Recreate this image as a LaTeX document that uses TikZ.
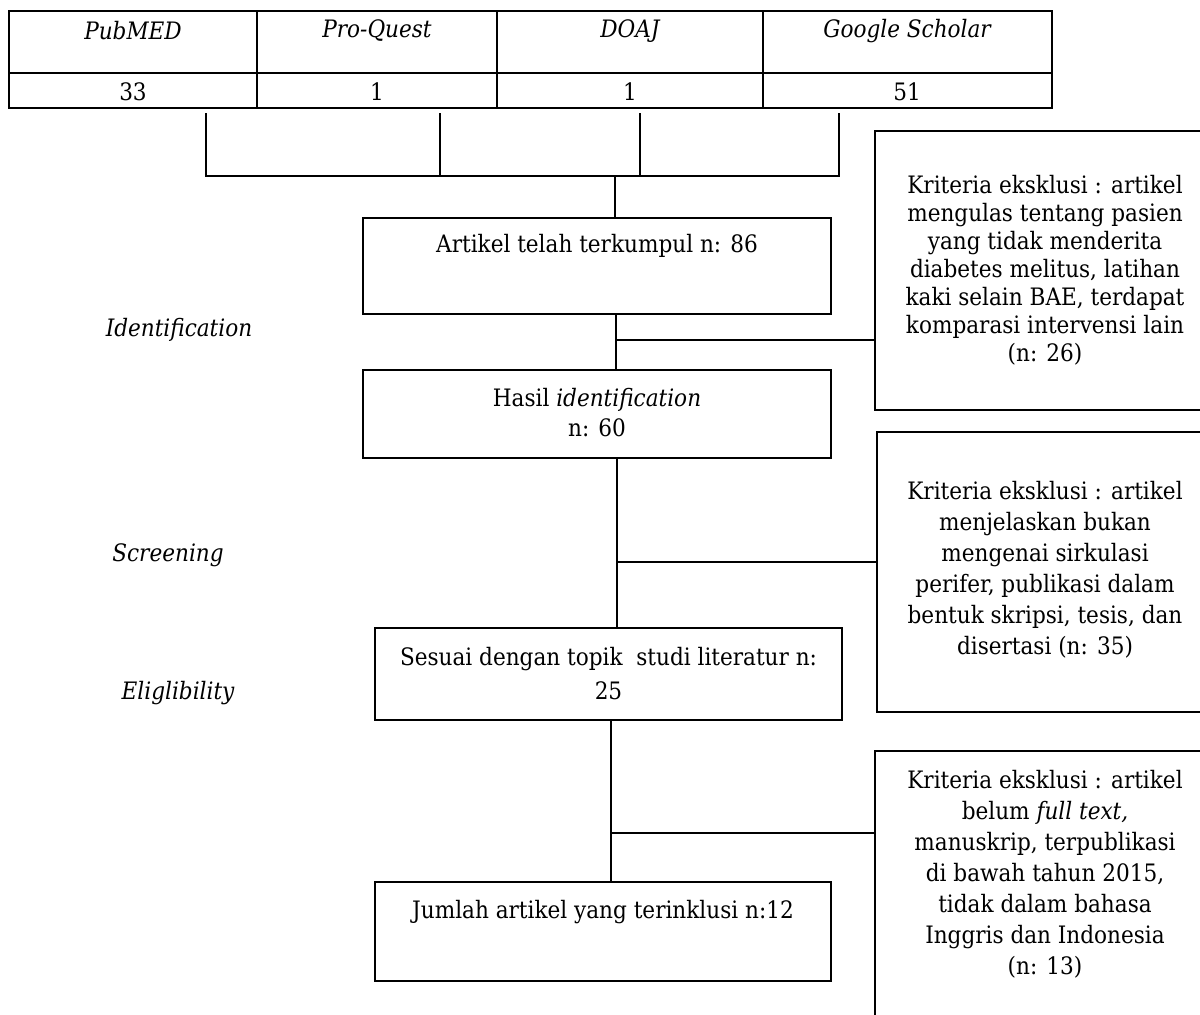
\documentclass[tikz,border=0pt]{standalone}
\usepackage{fontspec}
\setmainfont{DejaVu Serif Condensed}
\begin{document}
\begin{tikzpicture}[x=0.5pt,y=-0.5pt,
  box/.style={draw, line width=1.2pt, inner sep=0pt},
  con/.style={line width=0.9pt},
  txt/.style={inner sep=0pt, align=center, font=\fontsize{12}{15}\selectfont},
  itx/.style={inner sep=0pt, align=center, font=\fontsize{12}{15}\selectfont\itshape}]
\useasboundingbox (0,0) rectangle (1200,1014);
\clip (0,0) rectangle (1200,1014);
% table
\draw[line width=1.2pt] (9,11) rectangle (1052,108);
\draw[line width=1.2pt] (9,73) -- (1052,73);
\draw[line width=1.2pt] (257,11) -- (257,108) (497,11) -- (497,108) (763,11) -- (763,108);
\node[itx] (h1) at (133,31) {PubMED};
\node[itx] (h2) at (377,31) {Pro-Quest};
\node[itx] (h3) at (630,31) {DOAJ};
\node[itx] (h4) at (907,31) {Google Scholar};
\node[txt] (v1) at (133,92) {33};
\node[txt] (v2) at (377,92) {1};
\node[txt] (v3) at (630,92) {1};
\node[txt] (v4) at (907,92) {51};
% collector
\coordinate (c1) at (206,113);
\coordinate (c2) at (440,113);
\coordinate (c3) at (640,113);
\coordinate (c4) at (839,113);
\coordinate (cy) at (615,176);
\draw[con] (c1) |- (cy -| c4) -- (c4);
\draw[con] (c2) -- (c2 |- cy);
\draw[con] (c3) -- (c3 |- cy);
% main boxes
\node[box, minimum width=234pt, minimum height=48pt] (b1) at (597,266) {};
\node[txt] (t1) at (597,246) {Artikel telah terkumpul n: 86};
\node[box, minimum width=234pt, minimum height=44pt] (b2) at (597,414) {};
\node[txt] (t2) at (597,413) {Hasil \textit{identification}\\n: 60};
\node[box, minimum width=233.5pt, minimum height=46pt] (b3) at (608.5,674) {};
\node[txt, font=\fontsize{12}{17}\selectfont] (t3) at (608.5,674) {Sesuai dengan topik\ \ studi literatur n:\\25};
\node[box, minimum width=228pt, minimum height=49.5pt] (b4) at (603,931.5) {};
\node[txt] (t4) at (603,912) {Jumlah artikel yang terinklusi n:12};
\draw[con] (cy) -- (cy |- b1.north);
% exclusion boxes
\node[box, minimum width=170pt, minimum height=139.5pt] (ra) at (1045,270.5) {};
\node[txt, font=\fontsize{12}{14}\selectfont] (ta) at (1045,270) {Kriteria eksklusi : artikel\\mengulas tentang pasien\\yang tidak menderita\\diabetes melitus, latihan\\kaki selain BAE, terdapat\\komparasi intervensi lain\\(n: 26)};
\node[box, minimum width=169pt, minimum height=140pt] (rb) at (1046,572) {};
\node[txt, font=\fontsize{12}{15.5}\selectfont] (tb) at (1045,570) {Kriteria eksklusi : artikel\\menjelaskan bukan\\mengenai sirkulasi\\perifer, publikasi dalam\\bentuk skripsi, tesis, dan\\disertasi (n: 35)};
\node[box, minimum width=170pt, minimum height=150pt] (rc) at (1045,901) {};
\node[txt, font=\fontsize{12}{15.5}\selectfont] (tc) at (1045,874) {Kriteria eksklusi : artikel\\belum \textit{full text,}\\manuskrip, terpublikasi\\di bawah tahun 2015,\\tidak dalam bahasa\\Inggris dan Indonesia\\(n: 13)};
% flow connectors
\coordinate (j1) at (616,340);
\draw[con] (b1.south -| j1) -- (b2.north -| j1);
\draw[con] (j1) -- (j1 -| ra.west);
\coordinate (j2) at (617,562);
\draw[con] (b2.south -| j2) -- (b3.north -| j2);
\draw[con] (j2) -- (j2 -| rb.west);
\coordinate (j3) at (611,833);
\draw[line width=1.3pt] (b3.south -| j3) -- (b4.north -| j3);
\draw[con] (j3) -- (j3 -| rc.west);
% stage labels
\node[itx] (s1) at (179,330) {Identification};
\node[itx] (s2) at (168,555) {Screening};
\node[itx] (s3) at (178,693) {Eliglibility};
\end{tikzpicture}
\end{document}
